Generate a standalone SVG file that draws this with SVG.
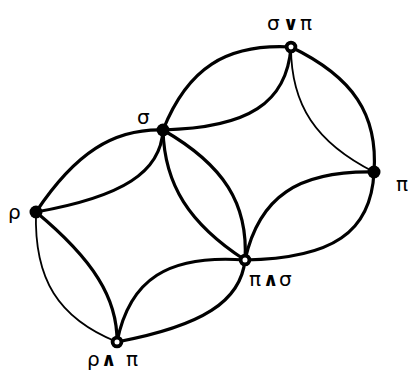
<svg xmlns="http://www.w3.org/2000/svg" width="408" height="371" viewBox="0 0 408 371">
<style>
.thick{fill:none;stroke:#000;stroke-width:3.2;stroke-linecap:round}
.thin{fill:none;stroke:#000;stroke-width:1.8;stroke-linecap:round}
.full{fill:#000}
.open{fill:#fff;stroke:#000;stroke-width:3.8}
.lbl{font-family:"DejaVu Sans",sans-serif;font-size:20px;fill:#000}
.op{font-family:"DejaVu Sans",sans-serif;font-size:19px;font-weight:bold;fill:#000}
</style>
<rect width="408" height="371" fill="#fff"/>
<g id="connectors">
<path class="thick" d="M36,212 C75.2,153.2 113.3,128.6 163,130"/>
<path class="thick" d="M36,212 C122.8,196.6 160.9,172 163,130"/>
<path class="thin" d="M36,212 C33.9,279.2 58.2,318.2 117,342"/>
<path class="thick" d="M36,212 C93.4,259.6 117.7,298.6 117,342"/>
<path class="thick" d="M163,130 C187.5,68.4 225.9,43.5 291,47"/>
<path class="thick" d="M163,130 C248.4,127.9 286.8,103 291,47"/>
<path class="thick" d="M291,47 C353.3,77.1 378.2,114.6 374,172"/>
<path class="thin" d="M291,47 C291,105.1 315.9,142.6 374,172"/>
<path class="thick" d="M374,172 C297.7,170.6 259,197 245,260"/>
<path class="thick" d="M374,172 C371.2,232.2 332.5,258.6 245,260"/>
<path class="thick" d="M163,130 C164.4,184.6 189,223.6 245,260"/>
<path class="thick" d="M163,130 C223.9,165 248.5,204 245,260"/>
<path class="thick" d="M117,342 C129.6,279 168,254.4 245,260"/>
<path class="thick" d="M117,342 C202.4,325.9 240.8,301.3 245,260"/>
</g>
<g id="n-rho"><circle class="full" cx="36" cy="212" r="6.5"/><text class="lbl" x="8" y="219">ρ</text></g>
<g id="n-sigma"><circle class="full" cx="163" cy="130" r="6.5"/><text class="lbl" x="137" y="124">σ</text></g>
<g id="n-pi"><circle class="full" cx="374" cy="172" r="6.5"/><text class="lbl" x="396" y="191">π</text></g>
<g id="n-sigma-or-pi"><circle class="open" cx="291" cy="47" r="4.4"/><text class="lbl" x="267" y="30">σ</text><text class="op" x="283" y="30">∨</text><text class="lbl" x="300" y="30">π</text></g>
<g id="n-pi-and-sigma"><circle class="open" cx="245" cy="260" r="4.4"/><text class="lbl" x="249" y="286">π</text><text class="op" x="263" y="286">∧</text><text class="lbl" x="279" y="286">σ</text></g>
<g id="n-rho-and-pi"><circle class="open" cx="117" cy="342" r="4.4"/><text class="lbl" x="87" y="366">ρ</text><text class="op" x="101" y="366">∧</text><text class="lbl" x="126" y="366">π</text></g>
</svg>
